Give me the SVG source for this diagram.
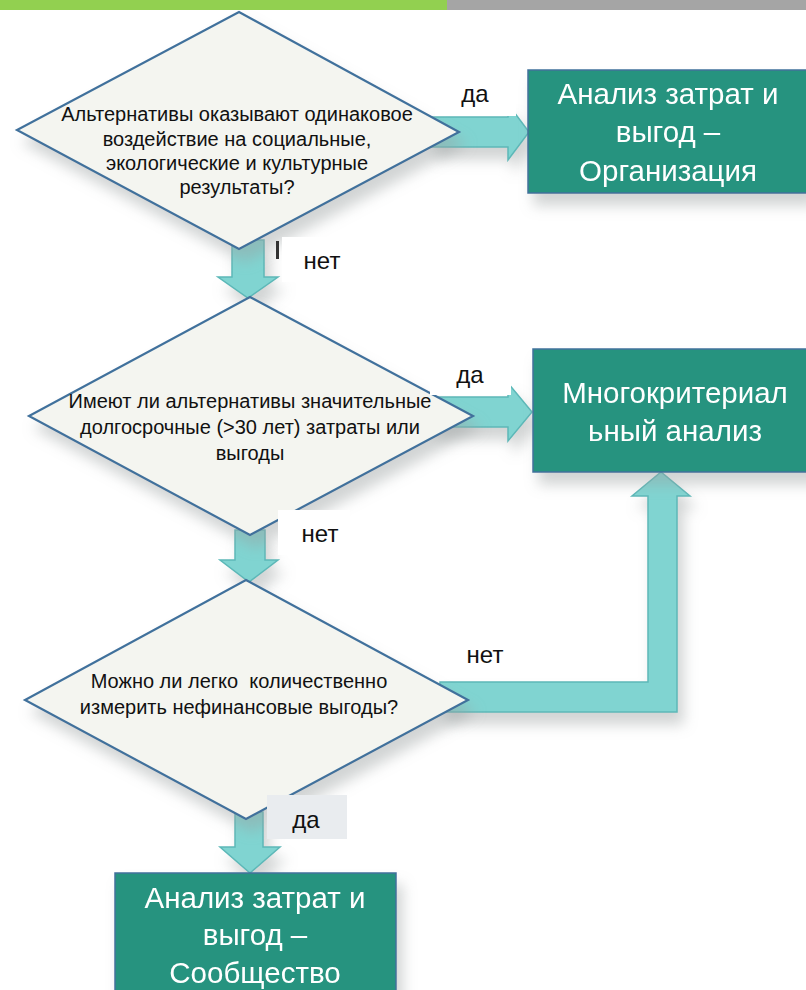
<svg xmlns="http://www.w3.org/2000/svg" width="806" height="990" viewBox="0 0 806 990">
<style>
.dia{fill:#f4f5f0;stroke:#41719c;stroke-width:2.2}
.box{fill:#26937f;stroke:#41719c;stroke-width:1.5}
.arr{fill:#80d4d1;stroke:#5cb8b8;stroke-width:1.5}
.dt{font-family:"Liberation Sans","Noto Sans",sans-serif;font-size:20px;fill:#111;text-anchor:middle;white-space:pre}
.bt{font-family:"Liberation Sans","Noto Sans",sans-serif;font-size:29.5px;fill:#fff;text-anchor:middle}
.lt{font-family:"Liberation Sans","Noto Sans",sans-serif;font-size:24px;fill:#111;text-anchor:middle}
.lbl{fill:#fff}
</style>
<defs>
<filter id="sh" x="-20%" y="-20%" width="150%" height="160%">
<feGaussianBlur in="SourceAlpha" stdDeviation="7"/>
<feOffset dx="6" dy="12" result="b"/>
<feFlood flood-color="#9aa0a0" flood-opacity="0.45"/>
<feComposite in2="b" operator="in"/>
<feMerge><feMergeNode/><feMergeNode in="SourceGraphic"/></feMerge>
</filter>
</defs>
<rect x="0" y="0" width="806" height="990" fill="#fff"/>
<rect x="0" y="0" width="447" height="10" fill="#92d050"/>
<rect x="447" y="0" width="359" height="10" fill="#a5a5a5"/>

<g id="connectors" filter="url(#sh)">
<polygon class="arr" points="430,117 508,117 508,104 529,132 508,160 508,147 430,147"/>
<polygon class="arr" points="232,240 264,240 264,277 278,277 248,298 218,277 232,277"/>
<polygon class="arr" points="430,397 508,397 508,383 532,412 508,441 508,427 430,427"/>
<polygon class="arr" points="235,530 265,530 265,560 278,560 249,582 220,560 235,560"/>
<polygon class="arr" points="440,682 648,682 648,496 632,496 661,472 690,496 677,496 677,712 440,712"/>
<polygon class="arr" points="235,812 263,812 263,847 280,847 250,873 220,847 235,847"/>
</g>

<g id="d1" filter="url(#sh)">
<polygon class="dia" points="239,12 459,132 239,249 17,130"/>
</g>
<g id="d1t">
<text class="dt" x="237" y="121">Альтернативы оказывают одинаковое</text>
<text class="dt" x="237" y="146">воздействие на социальные,</text>
<text class="dt" x="237" y="170">экологические и культурные</text>
<text class="dt" x="237" y="194">результаты?</text>
</g>

<g id="d2" filter="url(#sh)">
<polygon class="dia" points="250,297 473,416 250,535 29,416"/>
</g>
<g id="d2t">
<text class="dt" x="250" y="408">Имеют ли альтернативы значительные</text>
<text class="dt" x="250" y="434">долгосрочные (&gt;30 лет) затраты или</text>
<text class="dt" x="250" y="460">выгоды</text>
</g>

<g id="d3" filter="url(#sh)">
<polygon class="dia" points="246,580 468,700 246,819 25,700"/>
</g>
<g id="d3t">
<text class="dt" x="239" y="688">Можно ли легко  количественно</text>
<text class="dt" x="239" y="714">измерить нефинансовые выгоды?</text>
</g>

<g id="b1" filter="url(#sh)">
<rect class="box" x="528" y="70" width="282" height="123"/>
<text class="bt" x="668" y="104">Анализ затрат и</text>
<text class="bt" x="668" y="142">выгод –</text>
<text class="bt" x="668" y="181">Организация</text>
</g>

<g id="b2" filter="url(#sh)">
<rect class="box" x="533" y="349" width="285" height="123"/>
<text class="bt" x="675" y="403">Многокритериал</text>
<text class="bt" x="675" y="441">ьный анализ</text>
</g>

<g id="b3" filter="url(#sh)">
<rect class="box" x="115" y="873" width="281" height="125"/>
<text class="bt" x="255" y="908">Анализ затрат и</text>
<text class="bt" x="255" y="945">выгод –</text>
<text class="bt" x="255" y="983">Сообщество</text>
</g>

<g id="labels">
<rect class="lbl" x="435" y="68" width="81" height="48"/>
<text class="lt" x="475" y="102">да</text>
<rect class="lbl" x="282" y="237" width="72" height="45"/>
<rect x="276" y="241" width="3" height="18" fill="#333"/>
<text class="lt" x="322" y="269">нет</text>
<rect class="lbl" x="430" y="357" width="81" height="38"/>
<text class="lt" x="470" y="383">да</text>
<rect class="lbl" x="278" y="510" width="72" height="45"/>
<text class="lt" x="320" y="542">нет</text>
<rect class="lbl" x="440" y="638" width="72" height="35"/>
<text class="lt" x="485" y="663">нет</text>
<rect x="267" y="795" width="80" height="44" fill="#e9ecef"/>
<text class="lt" x="306" y="828">да</text>
</g>
</svg>
